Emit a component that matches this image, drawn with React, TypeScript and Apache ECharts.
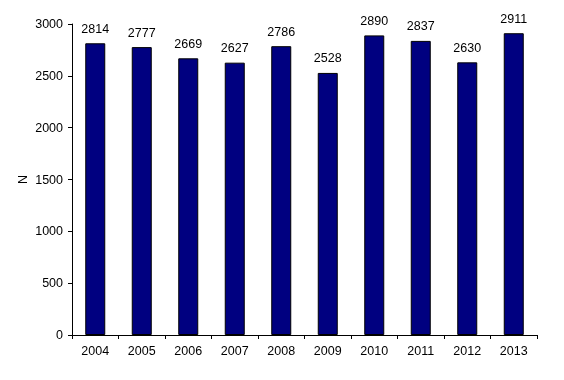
import React, { useEffect, useRef } from "react";
import * as echarts from "echarts";

const years = ["2004", "2005", "2006", "2007", "2008", "2009", "2010", "2011", "2012", "2013"];
const values = [2814, 2777, 2669, 2627, 2786, 2528, 2890, 2837, 2630, 2911];

export default function App() {
  const ref = useRef<HTMLDivElement>(null);
  useEffect(() => {
    const chart = echarts.init(ref.current!, null, { renderer: "svg" });
    const font = "Liberation Sans, Arial, sans-serif";
    chart.setOption({
      animation: false,
      grid: { left: 72, right: 27, top: 24, bottom: 45 },
      xAxis: {
        type: "category",
        data: years,
        axisLine: { lineStyle: { color: "#000", width: 1 } },
        axisTick: { show: true, alignWithLabel: false, length: 4, lineStyle: { color: "#000" } },
        axisLabel: { color: "#000", fontFamily: font, fontSize: 12.5, margin: 9 },
      },
      yAxis: {
        type: "value",
        min: 0,
        max: 3000,
        interval: 500,
        name: "N",
        nameLocation: "middle",
        nameGap: 43,
        nameMoveOverlap: false,
        nameTextStyle: { color: "#000", fontFamily: font, fontSize: 12.5 },
        axisLine: { show: true, lineStyle: { color: "#000", width: 1 } },
        axisTick: { show: true, length: 4, lineStyle: { color: "#000" } },
        axisLabel: { color: "#000", fontFamily: font, fontSize: 12.5, margin: 9, formatter: (v: number) => String(v) },
        splitLine: { show: false },
      },
      series: [
        {
          type: "bar",
          data: values,
          barWidth: 20,
          itemStyle: { color: "#000080", borderColor: "#000", borderWidth: 1 },
          label: {
            show: true,
            position: "top",
            distance: 8,
            color: "#000",
            fontFamily: font,
            fontSize: 12.5,
          },
        },
      ],
    });
    return () => chart.dispose();
  }, []);
  return <div ref={ref} style={{ position: "fixed", left: 0, top: 0, width: 564, height: 380 }} />;
}
